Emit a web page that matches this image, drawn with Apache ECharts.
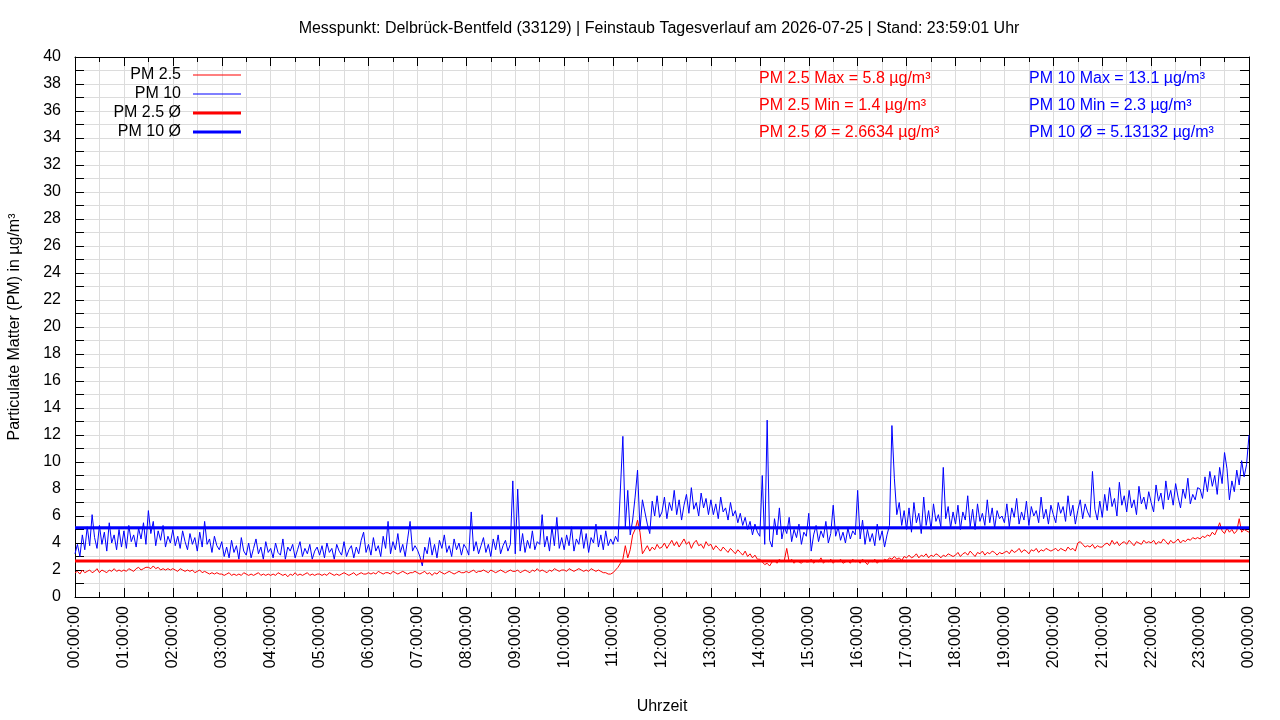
<!DOCTYPE html>
<html>
<head>
<meta charset="utf-8">
<title>Feinstaub Tagesverlauf</title>
<script src="https://cdn.jsdelivr.net/npm/echarts@6/dist/echarts.min.js"></script>
<style>
  html, body { margin: 0; padding: 0; background: #fff; }
  #chart { width: 1280px; height: 720px; }
</style>
</head>
<body>
<div id="chart"></div>
<script>
const stepMin = 3;

const pm10 = [
  3.2, 3.9, 3.0, 4.6, 3.5, 5.2, 3.8, 6.1, 4.4, 3.6, 5.3, 3.9, 4.8, 3.4, 5.5, 4.0, 4.6, 3.5, 5.0, 3.7,   // 00
  4.9, 3.6, 5.3, 4.1, 4.6, 3.7, 5.1, 4.3, 5.5, 3.9, 6.4, 4.7, 5.6, 3.8, 4.9, 4.2, 5.3, 3.7, 4.5, 4.0,   // 01
  5.0, 3.8, 4.5, 3.6, 4.9, 4.1, 3.5, 4.7, 3.9, 4.4, 3.4, 4.8, 3.7, 5.6, 3.9, 4.3, 3.3, 4.5, 3.8, 3.5,   // 02
  4.1, 3.0, 3.7, 2.9, 4.2, 3.3, 3.8, 2.8, 4.4, 3.4, 3.1, 4.0, 2.9, 3.6, 4.3, 3.2, 3.7, 2.8, 4.1, 3.3,   // 03
  3.6, 2.9, 4.0, 3.3, 3.1, 4.3, 2.8, 3.7, 3.4, 3.9, 2.9, 3.5, 4.1, 3.0, 3.6, 3.2, 3.9, 2.8, 3.4, 3.7,   // 04
  3.1, 3.8, 2.9, 4.0, 3.3, 3.6, 2.8, 3.9, 3.4, 3.1, 4.1, 3.0, 3.5, 3.8, 2.9, 3.7, 3.2, 4.2, 4.8, 3.3,   // 05
  3.9, 3.1, 4.4, 3.4, 3.8, 3.0, 4.5, 3.6, 5.6, 3.2, 4.1, 3.5, 4.7, 3.3, 3.9, 3.0, 4.3, 5.6, 3.4, 3.8,   // 06
  3.5, 3.0, 2.3, 3.7, 3.2, 4.4, 3.1, 3.9, 2.9, 4.2, 3.6, 4.6, 3.3, 3.8, 3.0, 4.3, 3.5, 4.0, 3.1, 3.9,   // 07
  3.6, 3.1, 6.3, 3.4, 4.1, 3.2, 3.8, 4.4, 3.3, 3.9, 3.0, 4.3, 3.5, 4.6, 3.2, 3.8, 4.2, 3.4, 3.9, 8.6,   // 08
  3.2, 8.0, 3.4, 4.7, 3.3, 4.2, 3.6, 4.9, 3.5, 4.1, 3.9, 6.1, 3.7, 4.5, 3.4, 5.2, 3.8, 5.9, 3.6, 4.4,   // 09
  3.5, 4.6, 3.8, 5.2, 3.4, 4.3, 3.9, 5.1, 3.6, 4.7, 3.3, 4.4, 4.0, 5.4, 3.7, 4.6, 3.5, 4.9, 3.8, 4.3,   // 10
  3.9, 4.5, 4.1, 8.0, 11.9, 5.2, 7.9, 4.6, 5.7, 7.4, 9.4, 5.0, 7.2, 6.3, 5.4, 4.7, 7.1, 6.0, 7.5, 5.9,  // 11
  6.3, 7.4, 5.8, 7.0, 6.4, 7.9, 6.1, 7.2, 5.7, 6.8, 7.6, 6.2, 8.1, 6.5, 7.0, 6.0, 7.7, 6.6, 7.3, 6.1,   // 12
  7.2, 6.1, 6.9, 5.8, 7.4, 6.3, 6.6, 5.7, 7.0, 6.0, 6.4, 5.5, 6.2, 5.3, 5.9, 5.0, 5.6, 4.6, 5.4, 4.8,   // 13
  4.5, 9.0, 3.9, 13.1, 4.2, 3.7, 5.8, 4.6, 6.6, 4.3, 5.2, 4.7, 5.9, 4.1, 5.0, 4.4, 5.4, 3.9, 4.8, 4.5,  // 14
  6.2, 3.4, 4.6, 5.3, 4.1, 4.9, 4.4, 5.6, 4.0, 4.7, 6.8, 4.5, 5.2, 4.2, 4.8, 4.0, 5.1, 4.3, 4.9, 4.6,   // 15
  7.9, 4.3, 5.7, 3.9, 5.0, 4.1, 4.7, 3.8, 5.4, 4.2, 4.9, 3.7, 4.6, 5.3, 12.7, 8.8, 6.1, 7.0, 5.3, 6.4,  // 16
  5.0, 6.6, 4.8, 7.0, 5.5, 6.2, 4.7, 7.4, 5.3, 6.4, 5.0, 6.9, 5.6, 6.1, 5.2, 9.6, 5.8, 6.7, 5.1, 6.3,   // 17
  5.4, 6.8, 5.0, 6.3, 5.7, 7.5, 5.2, 6.5, 5.0, 6.9, 5.6, 6.2, 5.3, 7.2, 5.5, 6.6, 5.1, 6.4, 5.8, 6.0,   // 18
  5.5, 6.9, 5.2, 6.6, 5.9, 7.3, 5.4, 6.3, 5.7, 7.1, 5.3, 6.7, 6.0, 6.4, 5.5, 7.4, 5.8, 6.5, 5.4, 6.8,   // 19
  6.1, 5.5, 7.0, 6.2, 6.7, 5.6, 7.5, 6.0, 6.8, 5.4, 6.4, 7.2, 5.8, 6.9, 6.3, 5.9, 9.3, 6.5, 5.7, 7.1,   // 20
  5.9, 7.6, 6.4, 8.1, 6.7, 7.3, 6.0, 8.5, 6.8, 7.5, 6.3, 7.9, 6.6, 7.2, 6.1, 8.2, 6.9, 7.4, 6.5, 7.8,   // 21
  7.0, 6.3, 8.3, 7.1, 7.7, 6.5, 8.6, 7.2, 7.9, 6.8, 8.4, 7.4, 6.6, 8.0, 7.3, 8.8, 6.9, 7.6, 7.2, 8.1,   // 22
  8.0, 7.3, 8.9, 7.8, 9.3, 8.2, 9.0, 7.6, 9.6, 8.4, 10.7, 9.5, 7.2, 8.6, 7.8, 9.4, 8.3, 10.1, 8.9, 9.8, // 23
  12.0
];

const pm25 = [
  1.8, 1.9, 1.7, 2.0, 1.8, 1.9, 2.0, 1.8, 1.9, 2.1, 1.8, 2.0, 1.9, 1.8, 2.0, 1.9, 2.1, 1.9, 2.0, 1.9,   // 00
  2.0, 1.9, 2.1, 2.0, 1.9, 2.1, 2.2, 2.0, 2.1, 2.2, 2.2, 2.1, 2.3, 2.1, 2.2, 2.0, 2.1, 2.0, 2.1, 2.0,   // 01
  2.1, 2.0, 1.9, 2.1, 2.0, 1.9, 2.0, 1.9, 2.0, 1.8, 1.9, 2.0, 1.8, 1.9, 1.8, 1.7, 1.8, 1.7, 1.8, 1.7,   // 02
  1.7, 1.6, 1.7, 1.8, 1.6, 1.7, 1.6, 1.7, 1.6, 1.8, 1.7, 1.6, 1.7, 1.6, 1.7, 1.8, 1.6, 1.7, 1.6, 1.7,   // 03
  1.6, 1.7, 1.6, 1.8, 1.7, 1.6, 1.7, 1.5, 1.7, 1.6, 1.8, 1.6, 1.7, 1.6, 1.7, 1.8, 1.6, 1.7, 1.6, 1.7,   // 04
  1.7, 1.6, 1.7, 1.6, 1.8, 1.7, 1.6, 1.7, 1.6, 1.7, 1.8, 1.7, 1.6, 1.7, 1.8, 1.6, 1.7, 1.8, 1.7, 1.7,   // 05
  1.8, 1.7, 1.8, 1.7, 1.9, 1.8, 1.7, 1.8, 1.8, 1.7, 1.9, 1.8, 1.7, 1.8, 1.9, 1.8, 1.7, 1.8, 1.8, 1.9,   // 06
  1.8, 1.7, 1.8, 1.9, 1.7, 1.8, 1.6, 1.8, 1.7, 1.9, 1.8, 1.7, 1.8, 1.9, 1.8, 1.7, 1.8, 1.9, 1.8, 1.8,   // 07
  1.9, 1.8, 1.9, 2.0, 1.8, 1.9, 1.9, 2.0, 1.9, 1.8, 2.0, 1.9, 1.8, 1.9, 2.0, 1.9, 1.8, 1.9, 2.0, 1.9,   // 08
  1.9, 2.0, 1.8, 1.9, 2.0, 1.9, 1.8, 2.0, 1.9, 2.1, 1.9, 2.0, 1.9, 1.8, 2.0, 1.9, 2.1, 2.0, 1.9, 2.0,   // 09
  2.0, 1.9, 2.1, 2.0, 1.9, 2.0, 2.1, 2.0, 1.9, 2.0, 1.9, 2.1, 2.0, 1.9, 2.0, 1.9, 1.8, 1.8, 1.7, 1.7,   // 10
  1.8, 2.0, 2.2, 2.5, 2.8, 3.8, 2.9, 3.5, 4.6, 5.0, 5.7, 4.8, 3.2, 3.5, 3.8, 3.4, 3.7, 3.5, 3.9, 3.6,   // 11
  3.7, 4.0, 3.6, 3.9, 4.2, 3.8, 4.1, 3.7, 4.0, 4.3, 3.9, 4.1, 3.6, 4.0, 4.2, 3.8, 3.9, 3.6, 4.1, 3.8,   // 12
  3.9, 3.5, 3.8, 3.6, 3.4, 3.7, 3.5, 3.3, 3.6, 3.4, 3.2, 3.5, 3.3, 3.1, 3.4, 3.0, 3.2, 2.9, 3.1, 2.8,   // 13
  2.8, 2.6, 2.4, 2.5, 2.3, 2.6, 2.7, 2.5, 2.8, 2.6, 2.7, 3.6, 2.6, 2.8, 2.5, 2.7, 2.6, 2.5, 2.7, 2.6,   // 14
  2.6, 2.8, 2.5, 2.7, 2.6, 2.9, 2.5, 2.7, 2.6, 2.8, 2.5, 2.7, 2.6, 2.8, 2.5, 2.6, 2.7, 2.5, 2.8, 2.6,   // 15
  2.7, 2.5, 2.8, 2.6, 2.4, 2.7, 2.6, 2.8, 2.5, 2.7, 2.6, 2.8, 2.7, 2.9, 2.8, 3.0, 2.8, 2.9, 2.7, 3.0,   // 16
  2.9, 3.1, 2.9, 3.0, 3.2, 2.9, 3.1, 3.0, 3.2, 2.9, 3.1, 3.0, 3.2, 3.1, 2.9, 3.1, 3.0, 3.2, 3.1, 3.0,   // 17
  3.1, 3.3, 3.0, 3.2, 3.3, 3.1, 3.4, 3.2, 3.0, 3.3, 3.2, 3.4, 3.1, 3.3, 3.2, 3.4, 3.3, 3.1, 3.3, 3.2,   // 18
  3.3, 3.4, 3.2, 3.5, 3.3, 3.4, 3.6, 3.3, 3.5, 3.4, 3.2, 3.5, 3.4, 3.6, 3.3, 3.5, 3.4, 3.6, 3.5, 3.4,   // 19
  3.5, 3.6, 3.4, 3.6, 3.5, 3.4, 3.7, 3.5, 3.6, 3.4, 4.0, 4.1, 3.9, 3.7, 3.8, 3.7, 3.9, 3.6, 3.8, 3.7,   // 20
  3.7, 3.9, 4.0, 3.8, 4.2, 3.9, 4.1, 3.8, 4.0, 4.1, 3.9, 4.2, 4.0, 3.8, 4.1, 4.0, 3.9, 4.2, 4.0, 4.1,   // 21
  4.0, 4.2, 3.9, 4.1, 4.0, 4.3, 4.1, 3.9, 4.2, 4.0, 4.1, 4.3, 4.0, 4.2, 4.1, 4.3, 4.2, 4.4, 4.3, 4.4,   // 22
  4.3, 4.5, 4.4, 4.6, 4.5, 4.8, 4.6, 5.0, 5.5, 4.9, 4.7, 5.1, 4.8, 5.0, 4.7, 4.9, 5.8, 4.8, 5.0, 4.9,   // 23
  4.8
];

// Tagesmittel
const pm25Avg = 2.6634;
const pm10Avg = 5.13132;

// Kennzahlen oben rechts
const statsPm25 = ['PM 2.5 Max = 5.8 µg/m³', 'PM 2.5 Min = 1.4 µg/m³', 'PM 2.5 Ø = 2.6634 µg/m³'];
const statsPm10 = ['PM 10 Max = 13.1 µg/m³', 'PM 10 Min = 2.3 µg/m³', 'PM 10 Ø = 5.13132 µg/m³'];

const FONT = "'Liberation Sans', Arial, sans-serif";
const GRID_COLOR = '#dcdcdc';
const DAY_MIN = 1440;

const toPoints = arr => arr.map((v, i) => [i * stepMin, v]);

function hhmmss(min) {
  const h = Math.floor(min / 60) % 24;
  return (h < 10 ? '0' + h : '' + h) + ':00:00';
}

const tickStyle = { inside: true, length: 9, lineStyle: { color: '#000', width: 1 } };
const minorTickStyle = { show: true, splitNumber: 2, length: 5, lineStyle: { color: '#000', width: 1 } };

const statGraphics = [];
statsPm25.forEach((t, i) => {
  statGraphics.push({ type: 'text', left: 759, top: 71 + i * 27, z: 100,
    style: { text: t, fill: '#ff0000', font: '16px ' + FONT } });
});
statsPm10.forEach((t, i) => {
  statGraphics.push({ type: 'text', left: 1029, top: 71 + i * 27, z: 100,
    style: { text: t, fill: '#0000ff', font: '16px ' + FONT } });
});

const chart = echarts.init(document.getElementById('chart'), null, { renderer: 'canvas' });

chart.setOption({
  animation: false,
  backgroundColor: '#fff',
  textStyle: { fontFamily: FONT, color: '#000' },
  title: {
    text: 'Messpunkt: Delbrück-Bentfeld (33129) | Feinstaub Tagesverlauf am 2026-07-25 | Stand: 23:59:01 Uhr',
    left: 654,
    top: 16,
    textAlign: 'center',
    textStyle: { fontSize: 16, fontWeight: 'normal', color: '#000', fontFamily: FONT }
  },
  grid: { left: 75, right: 31, top: 57, bottom: 123, containLabel: false, outerBoundsMode: 'none' },
  legend: [
    {
      data: ['PM 2.5', 'PM 10'],
      orient: 'vertical', align: 'right', right: 1039, top: 67,
      padding: 0, itemGap: 3, itemWidth: 48, itemHeight: 1, icon: 'rect',
      selectedMode: false,
      textStyle: { fontSize: 16, color: '#000', fontFamily: FONT, padding: [0, 7, 0, 0] }
    },
    {
      data: ['PM 2.5 Ø', 'PM 10 Ø'],
      orient: 'vertical', align: 'right', right: 1039, top: 105,
      padding: 0, itemGap: 3, itemWidth: 48, itemHeight: 3, icon: 'rect',
      selectedMode: false,
      textStyle: { fontSize: 16, color: '#000', fontFamily: FONT, padding: [0, 7, 0, 0] }
    }
  ],
  xAxis: [
    {
      type: 'value', min: 0, max: DAY_MIN, interval: 60,
      name: 'Uhrzeit', nameLocation: 'middle', nameGap: 102,
      nameTextStyle: { fontSize: 16, color: '#000' },
      axisLine: { onZero: false, lineStyle: { color: '#000', width: 1 } },
      axisTick: tickStyle,
      minorTick: minorTickStyle,
      axisLabel: { rotate: 90, margin: 9, fontSize: 16, color: '#000', formatter: hhmmss,
        showMinLabel: true, showMaxLabel: true },
      splitLine: { show: true, lineStyle: { color: GRID_COLOR, width: 1 } },
      minorSplitLine: { show: true, lineStyle: { color: GRID_COLOR, width: 1 } }
    },
    {
      type: 'value', position: 'top', min: 0, max: DAY_MIN, interval: 60,
      axisLine: { onZero: false, lineStyle: { color: '#000', width: 1 } },
      axisTick: tickStyle,
      minorTick: minorTickStyle,
      axisLabel: { show: false },
      splitLine: { show: false }
    }
  ],
  yAxis: [
    {
      type: 'value', min: 0, max: 40, interval: 1,
      name: 'Particulate Matter (PM) in µg/m³', nameLocation: 'middle', nameGap: 52,
      nameTextStyle: { fontSize: 16, color: '#000' },
      axisLine: { show: true, onZero: false, lineStyle: { color: '#000', width: 1 } },
      axisTick: tickStyle,
      axisLabel: {
        margin: 14, fontSize: 16, color: '#000', showMinLabel: true, showMaxLabel: true,
        formatter: v => (v % 2 === 0 ? String(v) : '')
      },
      splitLine: { show: true, lineStyle: { color: GRID_COLOR, width: 1 } }
    },
    {
      type: 'value', position: 'right', min: 0, max: 40, interval: 1,
      axisLine: { show: true, onZero: false, lineStyle: { color: '#000', width: 1 } },
      axisTick: tickStyle,
      axisLabel: { show: false },
      splitLine: { show: false }
    }
  ],
  series: [
    {
      name: 'PM 2.5', type: 'line', data: toPoints(pm25),
      showSymbol: false, symbol: 'none', color: '#ff0000',
      lineStyle: { color: '#ff0000', width: 1 }
    },
    {
      name: 'PM 10', type: 'line', data: toPoints(pm10),
      showSymbol: false, symbol: 'none', color: '#0000ff',
      lineStyle: { color: '#0000ff', width: 1 }
    },
    {
      name: 'PM 2.5 Ø', type: 'line', data: [[0, pm25Avg], [DAY_MIN, pm25Avg]],
      showSymbol: false, symbol: 'none', color: '#ff0000',
      lineStyle: { color: '#ff0000', width: 3 }
    },
    {
      name: 'PM 10 Ø', type: 'line', data: [[0, pm10Avg], [DAY_MIN, pm10Avg]],
      showSymbol: false, symbol: 'none', color: '#0000ff',
      lineStyle: { color: '#0000ff', width: 3 }
    }
  ],
  graphic: statGraphics
});
</script>
</body>
</html>
